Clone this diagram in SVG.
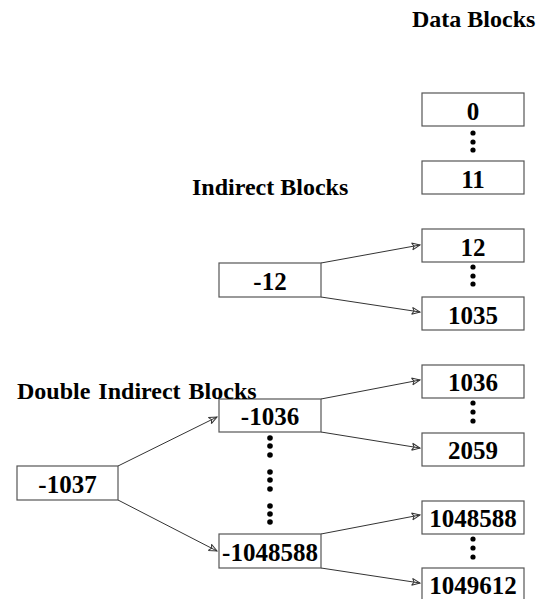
<svg xmlns="http://www.w3.org/2000/svg" width="543" height="599" viewBox="0 0 543 599">
<defs>
<style>
.box{fill:#fff;stroke:#555;stroke-width:1.2}
.lbl{font-family:"Liberation Serif","Times New Roman",serif;font-weight:bold;font-size:25px;fill:#000;text-anchor:middle}
.ttl{font-family:"Liberation Serif","Times New Roman",serif;font-weight:bold;font-size:24px;fill:#000}
.con{stroke:#333;stroke-width:1;fill:none;marker-end:url(#ah)}
.dot{fill:#000}
</style>
<marker id="ah" viewBox="-10 -5 12 10" refX="0" refY="0" markerWidth="12" markerHeight="10" markerUnits="userSpaceOnUse" orient="auto">
<path d="M-8,-3.5 L0,0 L-8,3.5 M-8,-3.5 L-6,0 L-8,3.5" fill="none" stroke="#333" stroke-width="1"/>
</marker>
</defs>
<rect width="543" height="599" fill="#fff"/>
<text class="ttl" x="412" y="27">Data Blocks</text>
<text class="ttl" x="192" y="195">Indirect Blocks</text>
<g id="connectors">
<line class="con" x1="321" y1="263" x2="420" y2="245"/>
<line class="con" x1="321" y1="297" x2="420" y2="312"/>
<line class="con" x1="118" y1="466" x2="217" y2="417"/>
<line class="con" x1="118" y1="500" x2="217" y2="551"/>
<line class="con" x1="321" y1="399" x2="420" y2="380"/>
<line class="con" x1="321" y1="432" x2="420" y2="448"/>
<line class="con" x1="321" y1="534" x2="420" y2="515"/>
<line class="con" x1="321" y1="568" x2="420" y2="583"/>
</g>
<g id="n0"><rect class="box" x="422" y="93" width="102" height="33"/><text class="lbl" x="473" y="120">0</text></g>
<g id="n11"><rect class="box" x="422" y="161" width="102" height="33"/><text class="lbl" x="473" y="188">11</text></g>
<g id="n12"><rect class="box" x="422" y="229" width="102" height="33"/><text class="lbl" x="473" y="256">12</text></g>
<g id="n1035"><rect class="box" x="422" y="297" width="102" height="33"/><text class="lbl" x="473" y="324">1035</text></g>
<g id="n1036"><rect class="box" x="422" y="365" width="102" height="33"/><text class="lbl" x="473" y="391">1036</text></g>
<g id="n2059"><rect class="box" x="422" y="433" width="102" height="33"/><text class="lbl" x="473" y="459">2059</text></g>
<g id="n1048588"><rect class="box" x="422" y="501" width="102" height="33"/><text class="lbl" x="473" y="527">1048588</text></g>
<g id="n1049612"><rect class="box" x="422" y="568" width="102" height="33"/><text class="lbl" x="473" y="594">1049612</text></g>
<g id="nm12"><rect class="box" x="219" y="263" width="102" height="34"/><text class="lbl" x="270" y="290">-12</text></g>
<g id="nm1036"><rect class="box" x="219" y="399" width="102" height="33"/><text class="lbl" x="270" y="425">-1036</text></g>
<g id="nm1048588"><rect class="box" x="219" y="534" width="102" height="34"/><text class="lbl" x="270" y="561">-1048588</text></g>
<g id="nm1037"><rect class="box" x="17" y="466" width="101" height="34"/><text class="lbl" x="67.500" y="493">-1037</text></g>
<text class="ttl" x="17" y="399" word-spacing="2">Double Indirect Blocks</text>
<g id="dots">
<circle class="dot" cx="473" cy="133" r="2.6"/><circle class="dot" cx="473" cy="142" r="2.6"/><circle class="dot" cx="473" cy="150" r="2.6"/>
<circle class="dot" cx="473" cy="267" r="2.6"/><circle class="dot" cx="473" cy="276" r="2.6"/><circle class="dot" cx="473" cy="284" r="2.6"/>
<circle class="dot" cx="473" cy="403" r="2.6"/><circle class="dot" cx="473" cy="412" r="2.6"/><circle class="dot" cx="473" cy="421" r="2.6"/>
<circle class="dot" cx="473" cy="539" r="2.6"/><circle class="dot" cx="473" cy="548" r="2.6"/><circle class="dot" cx="473" cy="557" r="2.6"/>
<circle class="dot" cx="270" cy="438" r="2.8"/><circle class="dot" cx="270" cy="446" r="2.8"/><circle class="dot" cx="270" cy="455" r="2.8"/>
<circle class="dot" cx="270" cy="472" r="2.8"/><circle class="dot" cx="270" cy="480" r="2.8"/><circle class="dot" cx="270" cy="489" r="2.8"/>
<circle class="dot" cx="270" cy="506" r="2.8"/><circle class="dot" cx="270" cy="514" r="2.8"/><circle class="dot" cx="270" cy="522" r="2.8"/>
</g>
</svg>
